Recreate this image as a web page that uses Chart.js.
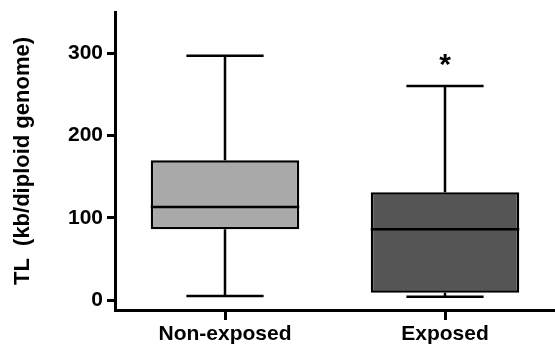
<!DOCTYPE html>
<html>
<head>
<meta charset="utf-8">
<script src="https://cdn.jsdelivr.net/npm/chart.js@4"></script>
<style>
  body { margin: 0; background: #fff; }
</style>
</head>
<body>
<canvas id="chart" width="555" height="347"></canvas>
<script>
// box plot values
const groups = ['Non-exposed', 'Exposed'];
const whiskerMin = [5, 4];
const q1 = [86, 9];
const median = [113, 86];
const q3 = [170, 131];
const whiskerMax = [297, 260];
const marks = ['', '*'];
const yTicks = [0, 100, 200, 300];
const boxColors = ['#a9a9a9', '#555555'];

const font = "'Liberation Sans', Arial, sans-serif";

// draws whiskers, medians and the significance mark using the chart scales
const boxPlugin = {
    id: 'boxParts',
    afterDatasetsDraw(chart) {
        const ctx = chart.ctx;
        const y = chart.scales.y;
        const meta = chart.getDatasetMeta(0);
        ctx.save();
        ctx.strokeStyle = '#000';
        ctx.lineWidth = 2.5;
        meta.data.forEach((bar, i) => {
            const cx = bar.x;
            const half = bar.width / 2;
            const cap = bar.width * 0.26;
            const yMin = y.getPixelForValue(whiskerMin[i]);
            const yMax = y.getPixelForValue(whiskerMax[i]);
            const yQ1 = y.getPixelForValue(q1[i]);
            const yQ3 = y.getPixelForValue(q3[i]);
            const yMed = y.getPixelForValue(median[i]);
            ctx.beginPath();
            ctx.moveTo(cx, yQ3); ctx.lineTo(cx, yMax);
            ctx.moveTo(cx - cap, yMax); ctx.lineTo(cx + cap, yMax);
            ctx.moveTo(cx, yQ1); ctx.lineTo(cx, yMin);
            ctx.moveTo(cx - cap, yMin); ctx.lineTo(cx + cap, yMin);
            ctx.moveTo(cx - half, yMed); ctx.lineTo(cx + half, yMed);
            ctx.stroke();
            if (marks[i]) {
                ctx.fillStyle = '#000';
                ctx.font = 'bold 30px ' + font;
                ctx.textAlign = 'center';
                ctx.textBaseline = 'middle';
                ctx.fillText(marks[i], cx, yMax - 20);
            }
        });
        ctx.restore();
    }
};

new Chart(document.getElementById('chart'), {
    type: 'bar',
    data: {
        labels: groups,
        datasets: [{
            data: groups.map((g, i) => [q1[i], q3[i]]),
            backgroundColor: boxColors,
            borderColor: '#000',
            borderWidth: 2.5,
            borderSkipped: false,
            barPercentage: 0.675,
            categoryPercentage: 1
        }]
    },
    options: {
        responsive: false,
        animation: false,
        layout: { padding: { top: 12, right: 0, left: 0, bottom: 0 } },
        plugins: {
            legend: { display: false },
            tooltip: { enabled: false }
        },
        scales: {
            x: {
                offset: true,
                border: { color: '#000', width: 3 },
                grid: { drawOnChartArea: false, offset: false, tickLength: 10, tickColor: '#000', tickWidth: 3 },
                ticks: { color: '#000', font: { family: font, size: 21, weight: 'bold' }, padding: 2 },
                afterFit(scale) {
                    scale.height = 37;
                    scale.paddingLeft = 0;
                    scale.paddingRight = 0;
                }
            },
            y: {
                min: -12,
                max: 350,
                border: { color: '#000', width: 3 },
                grid: { drawOnChartArea: false, tickLength: 8, tickColor: '#000', tickWidth: 3 },
                afterBuildTicks(scale) { scale.ticks = yTicks.map(v => ({ value: v })); },
                ticks: { color: '#000', font: { family: font, size: 21, weight: 'bold' }, padding: 4 },
                title: {
                    display: true,
                    text: 'TL  (kb/diploid genome)',
                    color: '#000',
                    font: { family: font, size: 22, weight: 'bold' },
                    padding: { top: 10, bottom: 0 }
                },
                afterFit(scale) {
                    scale.width = 115;
                    scale.paddingTop = 0;
                    scale.paddingBottom = 0;
                }
            }
        }
    },
    plugins: [boxPlugin]
});
</script>
</body>
</html>
